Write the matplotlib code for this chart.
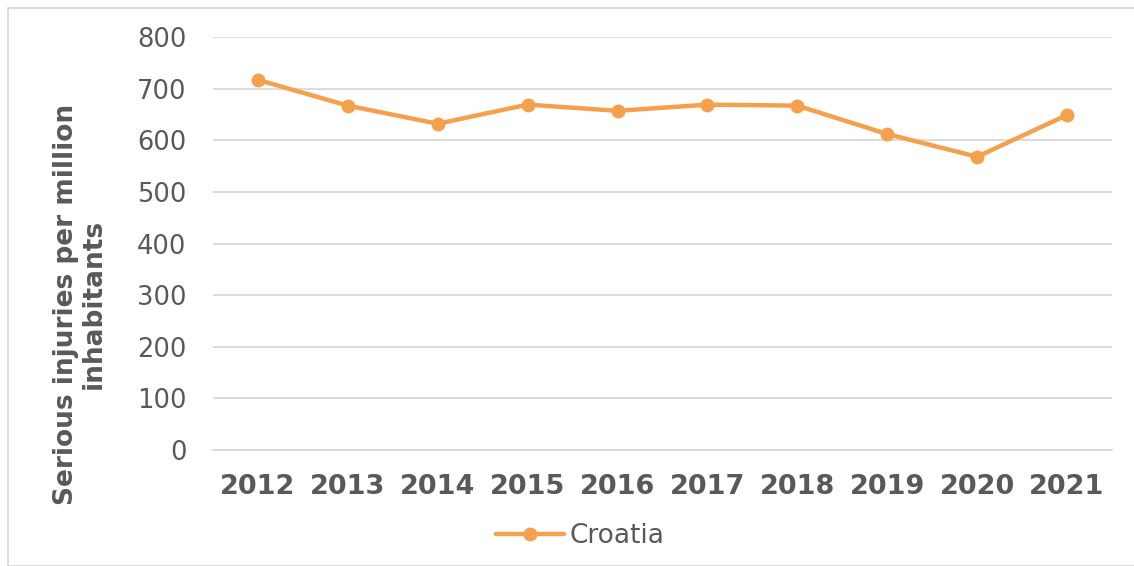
import matplotlib.pyplot as plt
from matplotlib.patches import Rectangle

years = ['2012', '2013', '2014', '2015', '2016', '2017', '2018', '2019', '2020', '2021']
croatia = [717, 667, 632, 669, 657, 669, 667, 612, 568, 649]
yticks = [0, 100, 200, 300, 400, 500, 600, 700, 800]

orange = '#F4A04C'
grey = '#595959'

fig = plt.figure(figsize=(11.34, 5.66), dpi=100)
ax = fig.add_axes([213/1134, 1 - 450/566, (1112-213)/1134, (450-37)/566])

x = list(range(len(years)))
ax.plot(x, croatia, color=orange, lw=3.2, marker='o', ms=9, label='Croatia',
        solid_capstyle='round')

ax.set_xlim(-0.5, len(years) - 0.5)
ax.set_ylim(0, 800)
ax.set_yticks(yticks)
ax.set_xticks(x)
ax.set_xticklabels(years, fontsize=19.5, fontweight='bold', color=grey)
ax.tick_params(axis='y', labelsize=18.5, labelcolor=grey, length=0, pad=19)
ax.tick_params(axis='x', length=0, pad=17)
ax.grid(axis='y', color='#D9D9D9', lw=1.3)
ax.set_axisbelow(True)
for s in ['top', 'right', 'left']:
    ax.spines[s].set_visible(False)
ax.spines['bottom'].set_color('#D9D9D9')
ax.spines['bottom'].set_linewidth(1.3)

fig.text(80/1134, 1 - 304/566, 'Serious injuries per million\ninhabitants', rotation=90,
         ha='center', va='center', fontsize=19, fontweight='bold', color=grey,
         linespacing=1.1)

leg = fig.legend(loc='center', bbox_to_anchor=(580/1134, 1 - 536/566), frameon=False,
                 fontsize=19, handlelength=2.6, handletextpad=0.2)
for t in leg.get_texts():
    t.set_color(grey)

fig.patches.append(Rectangle((8/1134, 0), 1.2, 1 - 8/566, transform=fig.transFigure,
                             fill=False, edgecolor='#D9D9D9', lw=1.3))

fig.savefig('out.png', dpi=100)
